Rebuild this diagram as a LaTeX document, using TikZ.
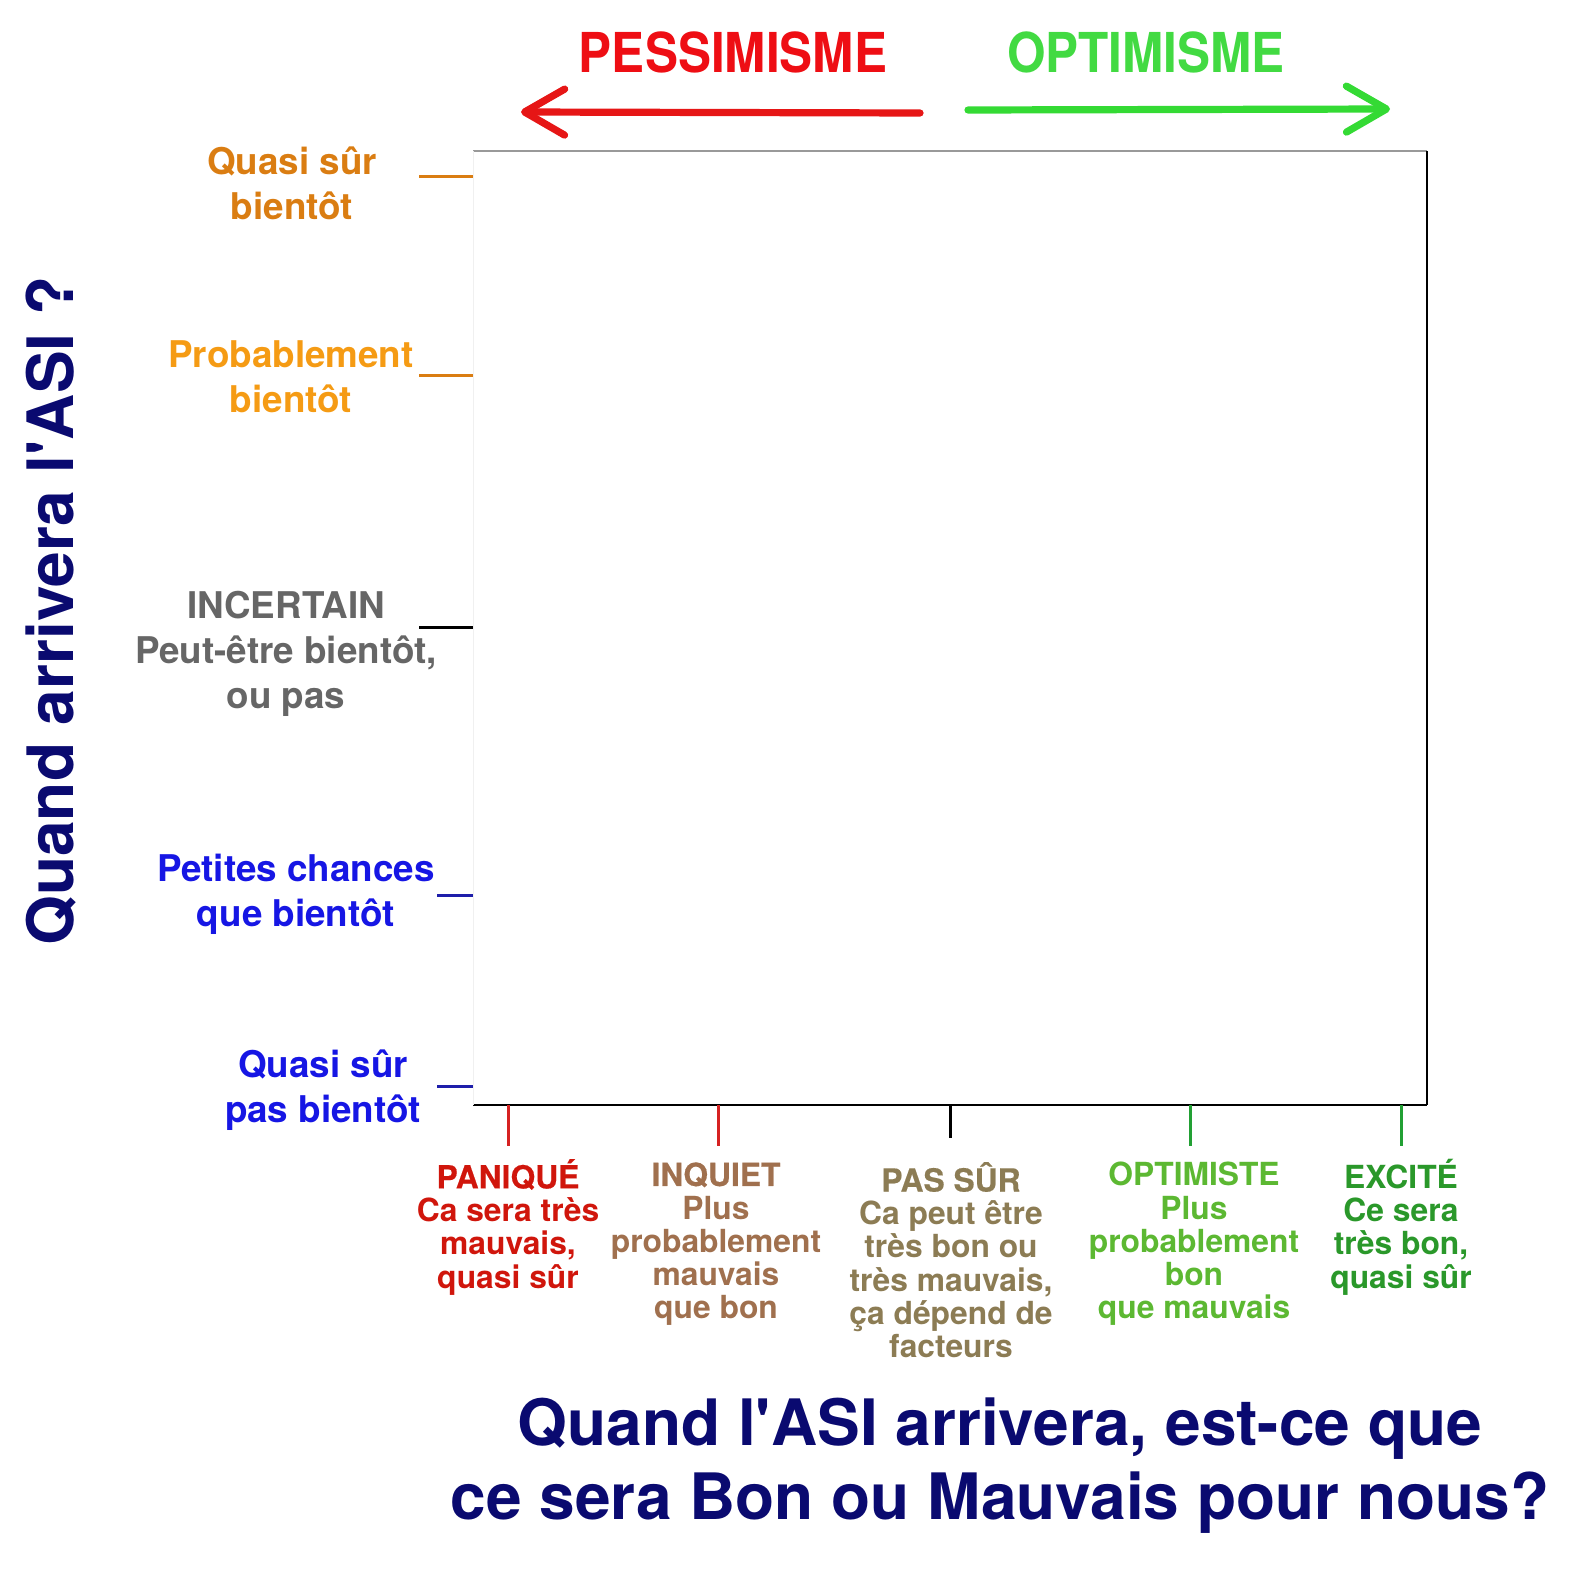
\documentclass[tikz,border=0pt]{standalone}
\usepackage{fontspec}
\setmainfont{TeX Gyre Heros}
\newfontfamily\semiheros[FakeBold=0.4]{TeX Gyre Heros}
\usetikzlibrary{arrows.meta, positioning}
\definecolor{pessred}{RGB}{238,14,20}
\definecolor{optgreen}{RGB}{66,218,66}
\definecolor{arrred}{RGB}{230,22,22}
\definecolor{arrgreen}{RGB}{52,218,52}
\definecolor{titlenavy}{RGB}{10,10,112}
\definecolor{soondark}{RGB}{218,125,18}
\definecolor{soonlight}{RGB}{245,155,20}
\definecolor{unsuregray}{RGB}{102,102,102}
\definecolor{laterblue}{RGB}{22,22,228}
\definecolor{tickblue}{RGB}{30,30,170}
\definecolor{tickred}{RGB}{214,34,34}
\definecolor{tickgreen}{RGB}{34,160,52}
\definecolor{panicred}{RGB}{208,22,12}
\definecolor{worrybrown}{RGB}{160,112,78}
\definecolor{unsureolive}{RGB}{140,124,84}
\definecolor{hopegreen}{RGB}{92,184,50}
\definecolor{excitegreen}{RGB}{42,152,42}

\begin{document}
\begin{tikzpicture}[x=0.5pt, y=-0.5pt,
		ylabel/.style={align=center, inner sep=0pt,
			font=\fontsize{18.4}{22.6}\selectfont\bfseries},
		xlabel/.style={align=center, inner sep=0pt,
			font=\fontsize{15.9}{16.6}\selectfont\bfseries},
		headword/.style={inner sep=0pt, font=\fontsize{27.5}{30}\selectfont\bfseries},
		bigtitle/.style={align=center, inner sep=0pt, text=titlenavy,
			font=\fontsize{32}{37}\selectfont\bfseries},
		axtick/.style={line width=1.5pt},
		bigarrow/.style={line width=3.6pt, line cap=round,
			-{Straight Barb[length=20pt, width=23pt, round]}}
	]
		\useasboundingbox (0,0) rectangle (1593,1574);

		% pessimism / optimism
		\node[headword, text=pessred] (pess) at (733,52) {\scalebox{0.9}[1]{PESSIMISME}};
		\node[headword, text=optgreen] (opt) at (1146,52) {\scalebox{0.9}[1]{OPTIMISME}};
		\coordinate (pessfrom) at (920,113);
		\coordinate (pessto) at (521,112);
		\coordinate (optfrom) at (968,110);
		\coordinate (optto) at (1390,109);
		\draw[bigarrow, arrred] (pessfrom) -- (pessto);
		\draw[bigarrow, arrgreen] (optfrom) -- (optto);

		% frame
		\coordinate (tl) at (473,151);
		\coordinate (tr) at (1427,151);
		\coordinate (br) at (1427,1105);
		\coordinate (bl) at (473,1105);
		\draw[gray!80, line width=0.7pt] (tl) -- (tr);
		\draw[black, line width=1pt] (tr) -- (br);
		\draw[black, line width=0.8pt] (bl) -- (br);
		\draw[black!6] (tl) -- (bl);

		% when
		\node[bigtitle, rotate=90] (whenq) at (51,611) {Quand arrivera l\textquotesingle ASI ?};
		\node[ylabel, text=soondark] (surelysoon) at (292,183) {Quasi sûr\\bientôt};
		\node[ylabel, text=soonlight] (probsoon) at (291,377) {Probablement\\bientôt};
		\node[ylabel, text=unsuregray] (unsure) at (286,654) {INCERTAIN\\Peut-être bientôt,\\ou pas};
		\node[ylabel, text=laterblue] (fewchance) at (296,894) {Petites chances\\que bientôt};
		\node[ylabel, text=laterblue] (surelylate) at (323,1090) {Quasi sûr\\pas bientôt};
		\foreach \y/\c/\s in {176/soondark/419, 375/soondark/419, 627/black/419,
				895/tickblue/437, 1086/tickblue/437}
			\draw[axtick, \c] (\s,\y) -- (473,\y);

		% good or bad
		\node[xlabel, text=panicred] (panic) at (508,1227)
			{{\semiheros PANIQUÉ}\\Ca sera très\\mauvais,\\quasi sûr};
		\node[xlabel, text=worrybrown] (worried) at (716,1244)
			{{\semiheros INQUIET}\\Plus\\probablement\\mauvais\\que bon};
		\node[xlabel, text=unsureolive] (notsure) at (951,1260)
			{{\semiheros PAS SÛR}\\Ca peut être\\très bon ou\\très mauvais,\\ça dépend de\\facteurs};
		\node[xlabel, text=hopegreen] (hopeful) at (1194,1244)
			{OPTIMISTE\\Plus\\probablement\\bon\\que mauvais};
		\node[xlabel, text=excitegreen] (excited) at (1401,1227)
			{EXCITÉ\\Ce sera\\très bon,\\quasi sûr};
		\foreach \x/\c/\e in {508/tickred/1146, 718/tickred/1146, 950/black/1138,
				1190/tickgreen/1146, 1401/tickgreen/1146}
			\draw[axtick, \c] (\x,1105) -- (\x,\e);

		\node[bigtitle] (goodq) at (1000,1466)
			{Quand l\textquotesingle ASI arrivera, est-ce que\\ce sera Bon ou Mauvais pour nous?};
	\end{tikzpicture}
\end{document}
